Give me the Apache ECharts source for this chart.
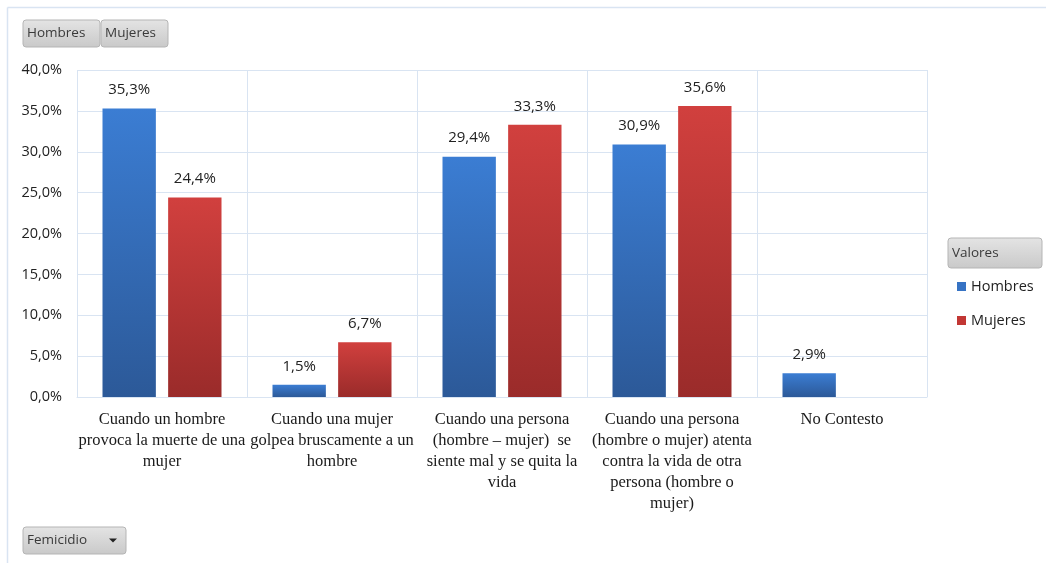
<!DOCTYPE html>
<html>
<head>
<meta charset="utf-8">
<script src="https://cdn.jsdelivr.net/npm/echarts@6/dist/echarts.min.js"></script>
<style>
  html, body { margin: 0; padding: 0; background: #fff; }
  #chart { width: 1046px; height: 563px; }
</style>
</head>
<body>
<div id="chart"></div>
<script>
// datos del grafico
var categorias = [
  'Cuando un hombre\nprovoca la muerte de una\nmujer',
  'Cuando una mujer\ngolpea bruscamente a un\nhombre',
  'Cuando una persona\n(hombre \u2013 mujer)  se\nsiente mal y se quita la\nvida',
  'Cuando una persona\n(hombre o mujer) atenta\ncontra la vida de otra\npersona (hombre o\nmujer)',
  'No Contesto'
];
var hombres = [35.3, 1.5, 29.4, 30.9, 2.9];
var mujeres = [24.4, 6.7, 33.3, 35.6, null];
var ticks = [0, 5, 10, 15, 20, 25, 30, 35, 40];

var fmt = function (v) { return Number(v).toFixed(1).replace('.', ',') + '%'; };
var sans = '"Open Sans", "Noto Sans", sans-serif';

// boton gris tipo tabla dinamica
function boton(x, y, w, h, txt, flecha) {
  var els = [{
    type: 'rect',
    shape: { x: x, y: y, width: w, height: h, r: 3 },
    style: {
      fill: new echarts.graphic.LinearGradient(0, 0, 0, 1, [
        { offset: 0, color: '#e4e4e4' }, { offset: 1, color: '#c9c9c9' }
      ]),
      stroke: '#b5b5b5', lineWidth: 1
    }
  }, {
    type: 'text',
    style: { x: x + 4, y: y + h / 2, text: txt, fill: '#3a3a3a', font: '13.5px ' + sans, verticalAlign: 'middle' }
  }];
  if (flecha) {
    els.push({
      type: 'polygon',
      shape: { points: [[x + w - 17, y + h / 2 - 2], [x + w - 9, y + h / 2 - 2], [x + w - 13, y + h / 2 + 2]] },
      style: { fill: '#222' }
    });
  }
  return els;
}

var graficos = [
  { type: 'line', shape: { x1: 7.5, y1: 7.5, x2: 1046, y2: 7.5 }, style: { stroke: '#d9e4f2', lineWidth: 1.5 } },
  { type: 'line', shape: { x1: 7.5, y1: 7.5, x2: 7.5, y2: 563 }, style: { stroke: '#d9e4f2', lineWidth: 1.5 } }
].concat(
  boton(23, 20, 77, 27, 'Hombres'),
  boton(101, 20, 67, 27, 'Mujeres'),
  boton(948, 238, 94, 30, 'Valores'),
  boton(23, 527, 103, 27, 'Femicidio', true)
);

var myChart = echarts.init(document.getElementById('chart'));
var option = {
  animation: false,
  textStyle: { fontFamily: sans },
  grid: { left: 77, right: 119, top: 70, bottom: 166 },
  legend: {
    orient: 'vertical',
    left: 952,
    top: 274,
    itemWidth: 9,
    itemHeight: 9,
    itemGap: 19,
    icon: 'rect',
    textStyle: { fontSize: 14.5, color: '#222', fontFamily: sans },
    data: [
      { name: 'Hombres', itemStyle: { color: '#3673c4' } },
      { name: 'Mujeres', itemStyle: { color: '#c23734' } }
    ]
  },
  xAxis: {
    type: 'category',
    data: categorias,
    axisLine: { show: true, lineStyle: { color: '#d9e4f2' } },
    axisTick: { show: false },
    splitLine: { show: true, lineStyle: { color: '#d9e4f2' } },
    axisLabel: {
      interval: 0,
      margin: 12,
      fontFamily: '"Liberation Serif", "Times New Roman", serif',
      fontSize: 16.5,
      lineHeight: 21,
      color: '#1a1a1a',
      align: 'center',
      verticalAlign: 'top'
    }
  },
  yAxis: {
    type: 'value',
    min: 0,
    max: 40,
    interval: 5,
    axisLine: { show: false },
    axisTick: { show: false },
    splitLine: { lineStyle: { color: '#d9e4f2' } },
    axisLabel: {
      margin: 15,
      fontSize: 14.5,
      color: '#222',
      formatter: function (v) { return ticks.indexOf(v) >= 0 ? fmt(v) : ''; }
    }
  },
  series: [
    {
      name: 'Hombres',
      type: 'bar',
      data: hombres,
      barGap: '23%',
      barCategoryGap: '30%',
      itemStyle: {
        color: new echarts.graphic.LinearGradient(0, 0, 0, 1, [
          { offset: 0, color: '#3b7dd3' }, { offset: 1, color: '#2c5998' }
        ])
      },
      label: { show: true, position: 'top', distance: 11, fontSize: 15, color: '#222', formatter: function (p) { return fmt(p.value); } }
    },
    {
      name: 'Mujeres',
      type: 'bar',
      data: mujeres,
      itemStyle: {
        color: new echarts.graphic.LinearGradient(0, 0, 0, 1, [
          { offset: 0, color: '#d1403e' }, { offset: 1, color: '#9a2b2a' }
        ])
      },
      label: { show: true, position: 'top', distance: 11, fontSize: 15, color: '#222', formatter: function (p) { return fmt(p.value); } }
    }
  ],
  graphic: graficos
};
myChart.setOption(option);
</script>
</body>
</html>
